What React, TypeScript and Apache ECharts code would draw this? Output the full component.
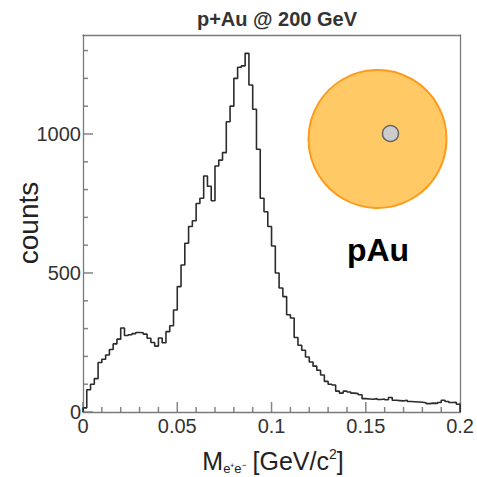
import React, { useEffect, useRef } from "react";
import * as echarts from "echarts";

// Invariant-mass histogram: 100 bins of 2 MeV between 0 and 0.2 GeV/c^2
const binWidth = 0.002;
const massMin = 0;
const massMax = 0.2;
const counts = [
  15, 80, 100, 120, 178, 190, 205, 225, 245, 262,
  302, 275, 278, 282, 286, 285, 280, 265, 250, 237,
  266, 249, 289, 310, 367, 451, 529, 607, 667, 688,
  750, 769, 849, 812, 760, 885, 906, 933, 1044, 1100,
  1200, 1240, 1245, 1290, 1176, 1089, 945, 769, 720, 667,
  597, 500, 446, 415, 350, 338, 268, 240, 222, 198,
  180, 165, 150, 133, 110, 100, 97, 75, 68, 75,
  72, 68, 66, 62, 48, 47, 46, 48, 45, 47,
  44, 52, 42, 41, 40, 42, 38, 37, 36, 35,
  33, 30, 32, 31, 34, 42, 38, 34, 35, 28,
];
const yMax = 1356;
const xTickValues = [0, 0.05, 0.1, 0.15, 0.2];
const xMinorStep = 0.01;
const yTickValues = [0, 500, 1000];
const yMinorStep = 100;

const titleText = "p+Au @ 200 GeV";
const yTitle = "counts";
const systemLabel = "pAu";

const FONT = "'Liberation Sans', Arial, Helvetica, sans-serif";
const MAJOR_LEN = 10;
const MINOR_LEN = 5;
const TICK_W = 1.5;

export default function App() {
  const ref = useRef<HTMLDivElement>(null);

  useEffect(() => {
    if (!ref.current) return;
    const chart = echarts.init(ref.current, undefined, { renderer: "svg" });

    // step outline through the bin edges
    const points: [number, number][] = [[massMin, 0]];
    counts.forEach((c, i) => points.push([massMin + i * binWidth, c]));
    points.push([massMax, counts[counts.length - 1]]);
    points.push([massMax, 0]);

    const axisGray = "#7a7a7a";
    const labelColor = "#333";
    const frameOnly = {
      axisLine: { show: true, onZero: false, lineStyle: { color: axisGray, width: 1.3 } },
      axisTick: { show: false },
      axisLabel: { show: false },
      splitLine: { show: false },
    };

    chart.setOption({
      animation: false,
      backgroundColor: "#fff",
      title: {
        text: titleText,
        left: 272,
        top: 4,
        textAlign: "center",
        textStyle: { fontFamily: FONT, fontWeight: "bold", fontSize: 20, color: "#333" },
      },
      grid: { left: 83, right: 15, top: 35, bottom: 65, show: false },
      xAxis: [
        {
          type: "value",
          min: massMin,
          max: massMax,
          interval: 0.05,
          axisLine: { show: true, onZero: false, lineStyle: { color: axisGray, width: 1.3 } },
          axisTick: { show: false },
          splitLine: { show: false },
          axisLabel: {
            fontFamily: FONT,
            fontSize: 20,
            color: labelColor,
            margin: 4,
            formatter: (v: number) => {
              const t = xTickValues.find((x) => Math.abs(x - v) < 1e-9);
              return t === undefined ? "" : String(parseFloat(t.toFixed(2)));
            },
          },
        },
        { type: "value", min: massMin, max: massMax, position: "top", ...frameOnly },
      ],
      yAxis: [
        {
          type: "value",
          min: 0,
          max: yMax,
          interval: 500,
          axisLine: { show: true, onZero: false, lineStyle: { color: axisGray, width: 1.3 } },
          axisTick: { show: false },
          splitLine: { show: false },
          axisLabel: {
            fontFamily: FONT,
            fontSize: 20,
            color: labelColor,
            margin: 2,
            formatter: (v: number) => (yTickValues.includes(v) ? String(v) : ""),
          },
        },
        { type: "value", min: 0, max: yMax, position: "right", ...frameOnly },
      ],
      series: [
        {
          type: "line",
          step: "end",
          data: points,
          showSymbol: false,
          symbol: "none",
          lineStyle: { color: "#2b2b2b", width: 1.6 },
          z: 3,
        },
      ],
    });

    // inward-pointing frame ticks as thin filled bars, placed through the axes' own scales
    const toPx = (x: number, y: number) =>
      chart.convertToPixel({ gridIndex: 0 }, [x, y]) as number[];
    const tickMarks: any[] = [];
    for (let k = 0; massMin + k * xMinorStep <= massMax + 1e-9; k++) {
      const v = +(massMin + k * xMinorStep).toFixed(4);
      const len = xTickValues.some((t) => Math.abs(t - v) < 1e-9) ? MAJOR_LEN : MINOR_LEN;
      const p = toPx(v, 0);
      tickMarks.push({
        type: "rect",
        shape: { x: p[0] - TICK_W / 2, y: p[1] - len, width: TICK_W, height: len },
        style: { fill: "#858585" },
      });
    }
    for (let v = 0; v <= yMax; v += yMinorStep) {
      const len = yTickValues.includes(v) ? MAJOR_LEN : MINOR_LEN;
      const p = toPx(massMin, v);
      tickMarks.push({
        type: "rect",
        shape: { x: p[0], y: p[1] - TICK_W / 2, width: len, height: TICK_W },
        style: { fill: "#858585" },
      });
    }

    chart.setOption({
      graphic: [
        ...tickMarks,
        {
          type: "text",
          x: 28,
          y: 223,
          rotation: Math.PI / 2,
          style: {
            text: yTitle,
            fontFamily: FONT,
            fontSize: 28,
            fill: "#222",
            textAlign: "center",
            textVerticalAlign: "middle",
          },
        },
        {
          type: "text",
          x: 273,
          y: 461,
          style: {
            text: "{m|M}{sub|e⁺e⁻}{m| [GeV/c}{sup|2}{m|]}",
            textAlign: "center",
            textVerticalAlign: "middle",
            rich: {
              m: { fontFamily: FONT, fontSize: 25, fill: "#222", lineHeight: 28 },
              sub: { fontFamily: FONT, fontSize: 13, fill: "#222", verticalAlign: "bottom", lineHeight: 28, padding: [10, 0, 0, 0] },
              sup: { fontFamily: FONT, fontSize: 14, fill: "#222", verticalAlign: "top", lineHeight: 28 },
            },
          },
        },
        {
          type: "circle",
          shape: { cx: 377.5, cy: 139, r: 69 },
          style: { fill: "#FFCA66", stroke: "#FF9A1A", lineWidth: 2 },
        },
        {
          type: "circle",
          shape: { cx: 390.5, cy: 133.5, r: 8 },
          style: { fill: "#CCCCCC", stroke: "#666", lineWidth: 1.5 },
        },
        {
          type: "text",
          x: 378,
          y: 250,
          style: {
            text: systemLabel,
            fontFamily: FONT,
            fontWeight: "bold",
            fontSize: 32,
            fill: "#000",
            textAlign: "center",
            textVerticalAlign: "middle",
          },
        },
      ],
    });

    return () => chart.dispose();
  }, []);

  return <div ref={ref} style={{ width: 477, height: 477, position: "absolute", left: 0, top: 0 }} />;
}
